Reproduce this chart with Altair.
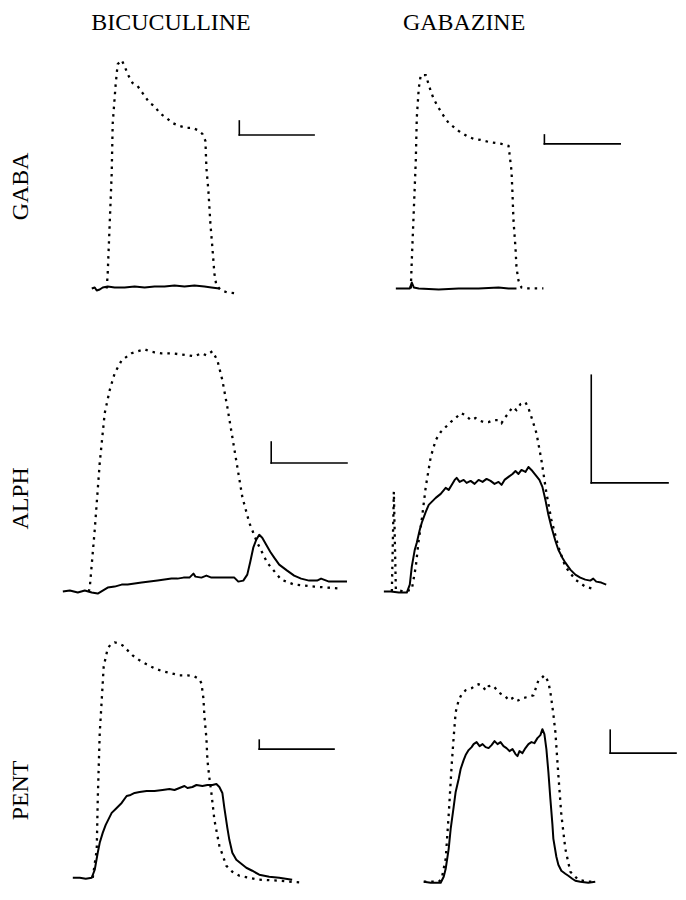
import altair as alt
import pandas as pd

FONT = "Liberation Serif"

# ---------------------------------------------------------------------------
# Data: time in ms, current in pA (inward current drawn upward, baseline = 0)
# control = agonist alone (dotted), antagonist = agonist + antagonist (solid)
# ---------------------------------------------------------------------------
drugs = ["BICUCULLINE", "GABAZINE"]
agonists = ["GABA", "ALPH", "PENT"]

# GABA / bicuculline
gaba_bic_ctrl_t = [470, 480, 500, 520, 530, 560, 580, 620, 650, 680, 730, 780, 830, 900, 950, 1000, 1070,
                   1130, 1200, 1270, 1330, 1380, 1430, 1460, 1470, 1490, 1510, 1530, 1550, 1570, 1620, 1680, 1770]
gaba_bic_ctrl_i = [0, 150, 650, 1150, 1650, 2050, 2250, 2290, 2230, 2150, 2060, 2030, 1960, 1860, 1830, 1760, 1710,
                   1660, 1630, 1610, 1610, 1590, 1550, 1480, 1210, 980, 650, 410, 150, 30, -20, -40, -50]
gaba_bic_ant_t = [320, 350, 370, 400, 430, 480, 550, 650, 750, 850, 950, 1050, 1150, 1250, 1350, 1450, 1520, 1600]
gaba_bic_ant_i = [0, 10, -20, -10, 10, 20, 10, 10, 20, 10, 20, 20, 30, 20, 30, 20, 10, 0]

# GABA / gabazine
gaba_gab_ctrl_t = [320, 330, 350, 370, 380, 400, 420, 470, 520, 550, 600, 650, 700, 800, 880, 950, 1020, 1100,
                   1170, 1230, 1300, 1310, 1330, 1340, 1350, 1370, 1380, 1400, 1430, 1480, 1650]
gaba_gab_ctrl_i = [0, 280, 780, 1280, 1710, 2010, 2140, 2140, 1980, 1900, 1810, 1730, 1660, 1580, 1530, 1500, 1490,
                   1470, 1460, 1450, 1430, 1350, 1180, 950, 680, 410, 210, 80, 10, 0, 0]
gaba_gab_ant_t = [170, 250, 310, 330, 350, 400, 600, 800, 1000, 1200, 1300, 1380]
gaba_gab_ant_i = [0, 0, 0, 60, 10, 0, -10, 0, 0, 10, 0, 0]

# ALPH / bicuculline
alph_bic_ctrl_t = [290, 300, 350, 400, 450, 500, 550, 620, 720, 780, 850, 900, 950, 1020, 1120, 1200, 1280, 1350,
                   1420, 1470, 1530, 1580, 1630, 1680, 1730, 1780, 1830, 1900, 1980, 2080, 2220, 2350, 2550, 2820]
alph_bic_ctrl_i = [0, 40, 620, 1290, 1790, 2020, 2190, 2320, 2390, 2410, 2430, 2410, 2400, 2390, 2390, 2380, 2370,
                   2360, 2390, 2370, 2410, 2320, 2120, 1850, 1550, 1250, 950, 690, 490, 290, 120, 70, 50, 30]
alph_bic_ant_t = [30, 100, 180, 250, 320, 380, 430, 480, 550, 620, 680, 750, 820, 900, 980, 1050, 1120, 1180, 1240,
                  1300, 1340, 1360, 1420, 1470, 1520, 1600, 1680, 1750, 1790, 1840, 1880, 1910, 1940, 1970, 2000,
                  2030, 2070, 2110, 2150, 2200, 2280, 2350, 2420, 2500, 2580, 2620, 2700, 2800, 2880]
alph_bic_ant_i = [0, 10, -10, 10, -10, -20, 10, 40, 50, 70, 70, 80, 90, 100, 110, 120, 130, 130, 140, 140, 180, 150,
                  140, 160, 140, 140, 140, 140, 100, 110, 170, 300, 440, 520, 570, 540, 470, 400, 340, 270, 210, 160,
                  130, 110, 110, 130, 100, 100, 100]

# ALPH / gabazine
alph_gab_ctrl_t = [130, 150, 170, 250, 330, 370, 400, 430, 470, 520, 570, 620, 670, 720, 770, 820, 870, 920, 970,
                   1000, 1050, 1100, 1150, 1200, 1230, 1260, 1300, 1340, 1380, 1420, 1470, 1500, 1530, 1580, 1630,
                   1680, 1730, 1800, 1870, 1970, 2070, 2170]
alph_gab_ctrl_i = [0, 1000, 20, 0, 20, 250, 520, 720, 1050, 1350, 1520, 1600, 1650, 1700, 1740, 1790, 1770, 1720,
                   1740, 1720, 1700, 1700, 1720, 1720, 1690, 1740, 1790, 1850, 1820, 1880, 1900, 1840, 1750, 1590,
                   1320, 990, 720, 450, 250, 120, 50, 20]
alph_gab_ant_t = [50, 120, 200, 280, 310, 330, 360, 380, 410, 430, 470, 500, 540, 570, 620, 670, 700, 730, 760, 780,
                  810, 850, 880, 920, 960, 1000, 1040, 1080, 1120, 1160, 1200, 1230, 1260, 1300, 1340, 1370, 1400,
                  1430, 1470, 1500, 1530, 1570, 1610, 1640, 1670, 1700, 1730, 1770, 1800, 1840, 1870, 1920, 1970,
                  2020, 2070, 2120, 2150, 2180, 2230, 2280]
alph_gab_ant_i = [0, 0, -10, -10, 70, 250, 420, 490, 620, 690, 800, 870, 910, 940, 980, 1040, 1020, 1070, 1120, 1140,
                  1100, 1120, 1090, 1110, 1080, 1120, 1100, 1130, 1110, 1080, 1100, 1070, 1120, 1150, 1180, 1210,
                  1180, 1220, 1200, 1250, 1220, 1170, 1120, 1050, 920, 770, 650, 510, 420, 340, 290, 220, 170, 140,
                  120, 110, 130, 100, 90, 70]

# PENT / bicuculline
pent_bic_ctrl_t = [330, 370, 380, 400, 420, 440, 480, 510, 550, 590, 630, 680, 730, 800, 870, 950, 1030, 1120, 1200,
                   1280, 1350, 1400, 1420, 1440, 1450, 1470, 1480, 1500, 1520, 1550, 1600, 1670, 1730, 1800, 2000,
                   2200, 2430]
pent_bic_ctrl_i = [0, 280, 780, 1450, 1780, 2120, 2300, 2340, 2360, 2350, 2330, 2280, 2230, 2180, 2140, 2100, 2070,
                   2050, 2030, 2030, 2020, 1990, 1950, 1800, 1620, 1400, 1180, 1000, 850, 580, 320, 120, 60, 20, -20,
                   -30, -50]
pent_bic_ant_t = [130, 200, 260, 320, 350, 380, 400, 430, 460, 480, 520, 570, 620, 670, 710, 750, 800, 870, 950,
                  1030, 1100, 1150, 1200, 1250, 1280, 1330, 1370, 1430, 1480, 1530, 1570, 1600, 1630, 1650, 1680,
                  1700, 1730, 1770, 1820, 1870, 1930, 2000, 2100, 2200, 2330]
pent_bic_ant_i = [0, 0, -10, 0, 80, 250, 350, 450, 530, 570, 650, 700, 750, 820, 830, 850, 860, 870, 870, 880, 890,
                  880, 900, 920, 900, 910, 930, 920, 930, 930, 940, 910, 850, 700, 500, 380, 250, 180, 140, 100, 70,
                  30, 10, 0, -20]

# PENT / gabazine
pent_gab_ctrl_t = [450, 600, 630, 670, 700, 730, 750, 770, 800, 830, 870, 930, 970, 1000, 1040, 1070, 1100, 1130,
                   1160, 1200, 1230, 1270, 1300, 1340, 1370, 1400, 1440, 1480, 1520, 1550, 1570, 1600, 1630, 1660,
                   1680, 1700, 1720, 1730, 1750, 1770, 1800, 1830, 1870, 1920, 2000, 2100, 2170]
pent_gab_ctrl_i = [0, 0, 30, 230, 670, 1170, 1450, 1700, 1820, 1880, 1920, 1940, 1970, 1980, 1960, 1920, 1960, 1970,
                   1950, 1900, 1880, 1860, 1820, 1840, 1810, 1820, 1840, 1850, 1860, 1870, 1930, 2020, 2040, 2070,
                   2040, 2000, 1900, 1830, 1680, 1500, 1070, 670, 330, 100, 20, 0, 0]
pent_gab_ant_t = [450, 520, 580, 620, 650, 670, 700, 720, 750, 770, 800, 820, 850, 870, 900, 930, 950, 980, 1010,
                  1040, 1070, 1100, 1130, 1160, 1190, 1220, 1250, 1280, 1310, 1340, 1370, 1390, 1410, 1440, 1470,
                  1500, 1530, 1560, 1590, 1620, 1640, 1660, 1680, 1700, 1720, 1740, 1750, 1780, 1800, 1830, 1870,
                  1900, 1940, 1970, 2020, 2100, 2170]
pent_gab_ant_i = [0, -10, -10, -10, 50, 130, 330, 530, 750, 900, 1030, 1130, 1220, 1270, 1320, 1350, 1380, 1400,
                  1360, 1380, 1350, 1340, 1370, 1410, 1380, 1400, 1360, 1340, 1310, 1330, 1280, 1260, 1310, 1290,
                  1340, 1380, 1400, 1390, 1440, 1470, 1530, 1480, 1330, 1100, 830, 580, 430, 250, 170, 110, 80, 60,
                  30, 10, 0, -10, 0]

# scale bars: (t_start, t_end, i_top, i_bottom)
scale_bars = {
    ("GABA", "BICUCULLINE"): (1800, 2550, 1680, 1540),
    ("GABA", "GABAZINE"): (1660, 2420, 1540, 1450),
    ("ALPH", "BICUCULLINE"): (2120, 2880, 1500, 1290),
    ("ALPH", "GABAZINE"): (2130, 2900, 2170, 1090),
    ("PENT", "BICUCULLINE"): (2000, 2750, 1380, 1290),
    ("PENT", "GABAZINE"): (2320, 2980, 1520, 1290),
}

traces = {
    ("GABA", "BICUCULLINE"): (gaba_bic_ctrl_t, gaba_bic_ctrl_i, gaba_bic_ant_t, gaba_bic_ant_i),
    ("GABA", "GABAZINE"): (gaba_gab_ctrl_t, gaba_gab_ctrl_i, gaba_gab_ant_t, gaba_gab_ant_i),
    ("ALPH", "BICUCULLINE"): (alph_bic_ctrl_t, alph_bic_ctrl_i, alph_bic_ant_t, alph_bic_ant_i),
    ("ALPH", "GABAZINE"): (alph_gab_ctrl_t, alph_gab_ctrl_i, alph_gab_ant_t, alph_gab_ant_i),
    ("PENT", "BICUCULLINE"): (pent_bic_ctrl_t, pent_bic_ctrl_i, pent_bic_ant_t, pent_bic_ant_i),
    ("PENT", "GABAZINE"): (pent_gab_ctrl_t, pent_gab_ctrl_i, pent_gab_ant_t, pent_gab_ant_i),
}

# ---------------------------------------------------------------------------
# Layout
# ---------------------------------------------------------------------------
COL_W = {"BICUCULLINE": 292, "GABAZINE": 298}
ROW_H = {"GABA": 252, "ALPH": 264, "PENT": 250}
T_DOMAIN = {"BICUCULLINE": [0, 2920], "GABAZINE": [0, 2980]}
I_DOMAIN = {
    ("GABA", "BICUCULLINE"): [-100, 2420],
    ("GABA", "GABAZINE"): [-100, 2420],
    ("ALPH", "BICUCULLINE"): [-60, 2580],
    ("ALPH", "GABAZINE"): [-60, 2580],
    ("PENT", "BICUCULLINE"): [-50, 2450],
    ("PENT", "GABAZINE"): [-10, 2490],
}
LABEL_Y = {"GABA": 139, "ALPH": 164, "PENT": 157}
HEADER_X = {"BICUCULLINE": 111, "GABAZINE": 85}
HEADER_Y = -18


def make_panel(ag, drug):
    ct, ci, at, ai = traces[(ag, drug)]
    df = pd.DataFrame({
        "t": ct + at,
        "i": ci + ai,
        "series": ["control"] * len(ct) + ["antagonist"] * len(at),
        "k": list(range(len(ct))) + list(range(len(at))),
    })
    t0, t1, itop, ibot = scale_bars[(ag, drug)]
    bars = pd.DataFrame({"t": [t0, t0], "t2": [t0, t1], "i": [itop, ibot], "i2": [ibot, ibot],
                         "part": ["v", "h"]})

    xs = alt.Scale(domain=T_DOMAIN[drug], nice=False, zero=False)
    ys = alt.Scale(domain=I_DOMAIN[(ag, drug)], nice=False, zero=False)
    if drug == "BICUCULLINE":
        yaxis = alt.Axis(title=ag, domain=False, ticks=False, labels=False, grid=False,
                         titleFont=FONT, titleFontSize=24, titleFontWeight="normal", titleColor="black",
                         titleAngle=270, titleAlign="center", titleBaseline="alphabetic",
                         titlePadding=32, titleY=LABEL_Y[ag])
    else:
        yaxis = None
    if ag == "GABA":
        xaxis = alt.Axis(orient="top", title=drug, domain=False, ticks=False, labels=False, grid=False,
                         titleFont=FONT, titleFontSize=24, titleFontWeight="normal", titleColor="black",
                         titleAlign="center", titleBaseline="alphabetic",
                         titleX=HEADER_X[drug], titleY=HEADER_Y)
    else:
        xaxis = None
    X = alt.X("t:Q", scale=xs, axis=xaxis)
    Y = alt.Y("i:Q", scale=ys, axis=yaxis)

    base = alt.Chart(df)
    ctrl = base.transform_filter("datum.series == 'control'").mark_line(
        color="black", strokeWidth=2.3, strokeDash=[2.5, 5], strokeCap="butt"
    ).encode(x=X, y=Y, order="k:Q")
    ant = base.transform_filter("datum.series == 'antagonist'").mark_line(
        color="black", strokeWidth=2, strokeJoin="round"
    ).encode(x=X, y=Y, order="k:Q")
    vbar = alt.Chart(bars).transform_filter("datum.part == 'v'").mark_rule(
        color="black", strokeWidth=1.6, strokeCap="square"
    ).encode(x=X, y=Y, y2="i2:Q")
    hbar = alt.Chart(bars).transform_filter("datum.part == 'h'").mark_rule(
        color="black", strokeWidth=1.6, strokeCap="square"
    ).encode(x=X, x2="t2:Q", y=Y)

    return alt.layer(ctrl, ant, vbar, hbar).properties(width=COL_W[drug], height=ROW_H[ag])


rows = [alt.hconcat(*[make_panel(ag, d) for d in drugs], spacing=28) for ag in agonists]

chart = alt.vconcat(*rows, spacing=36).properties(
    padding={"left": 1, "top": 1, "right": 0, "bottom": 0},
    background="white",
).configure_view(stroke=None)

chart.save("out.html", embed_options={"renderer": "svg", "actions": False})
